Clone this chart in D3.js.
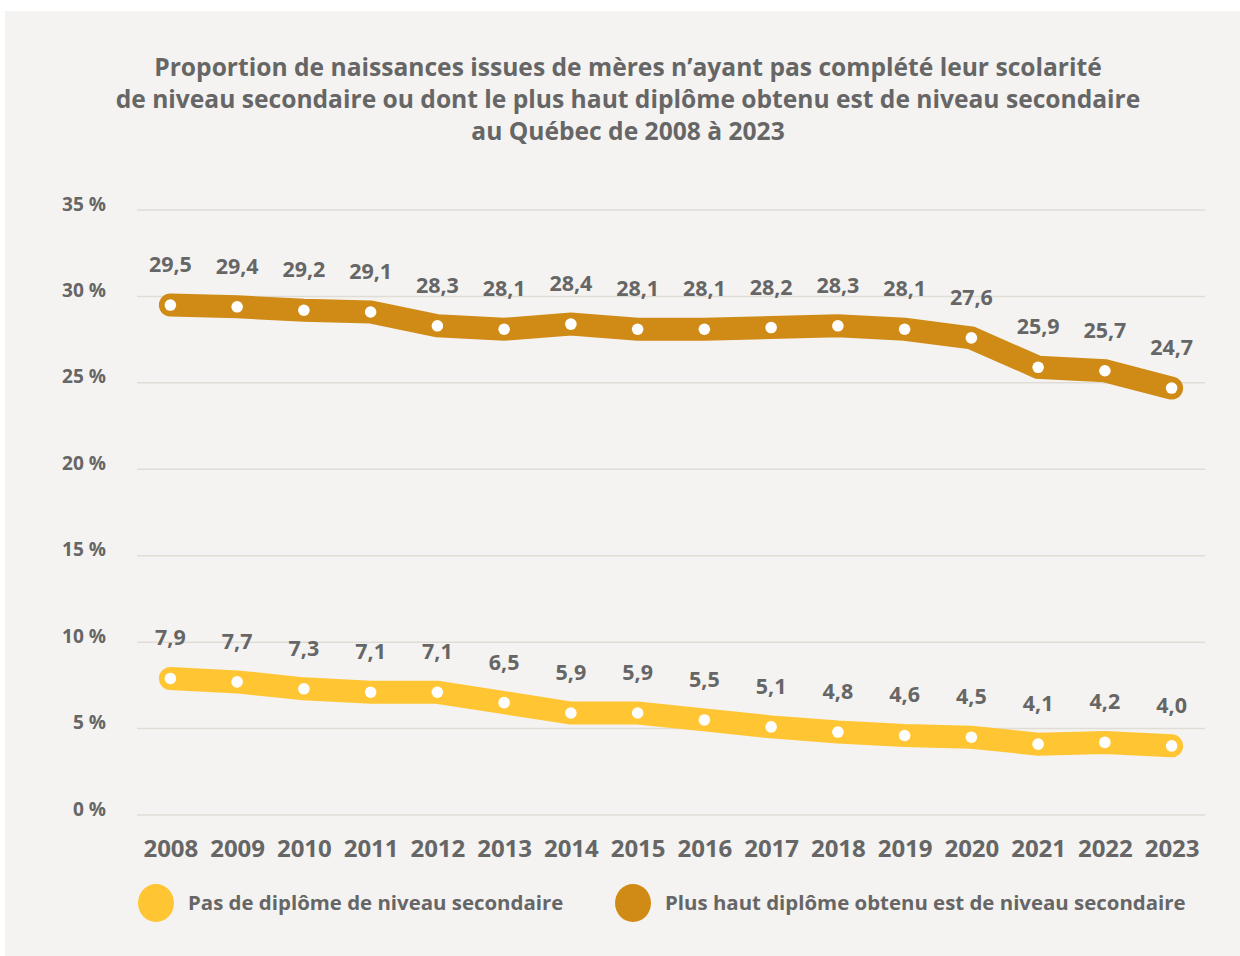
<!DOCTYPE html>
<html><head><meta charset="utf-8">
<script src="https://cdn.jsdelivr.net/npm/d3@7"></script>
<style>
html,body{margin:0;padding:0;background:#fff;}
svg{display:block;}
text{font-family:"Open Sans", Lato, sans-serif;font-weight:700;fill:#666;}
</style></head>
<body>
<svg id="chart" width="1240" height="956"></svg>
<script>
const years = ["2008","2009","2010","2011","2012","2013","2014","2015","2016","2017","2018","2019","2020","2021","2022","2023"];
const pasDiplome = [7.9,7.7,7.3,7.1,7.1,6.5,5.9,5.9,5.5,5.1,4.8,4.6,4.5,4.1,4.2,4.0];
const plusHautSecondaire = [29.5,29.4,29.2,29.1,28.3,28.1,28.4,28.1,28.1,28.2,28.3,28.1,27.6,25.9,25.7,24.7];
const yTicks = [0,5,10,15,20,25,30,35];
const seriesNames = ["Pas de diplôme de niveau secondaire","Plus haut diplôme obtenu est de niveau secondaire"];
const seriesColors = ["#FFC533","#D08A16"];
const titleLines = [
  "Proportion de naissances issues de mères n’ayant pas complété leur scolarité",
  "de niveau secondaire ou dont le plus haut diplôme obtenu est de niveau secondaire",
  "au Québec de 2008 à 2023"
];

const svg = d3.select("#chart");
svg.append("rect").attr("x",5).attr("y",11).attr("width",1235).attr("height",945).attr("fill","#F4F3F1");

const x = d3.scalePoint().domain(years).range([137,1205]).padding(0.5);
const y = d3.scaleLinear().domain([0,35]).range([815,210]);

// fit a selection's font size so that a reference element gets a target width
function fitGroup(sel, refNode, targetW, baseSize){
  sel.style("font-size", baseSize+"px");
  d3.select(refNode).style("font-size", baseSize+"px");
  const w = refNode.getComputedTextLength();
  const s = baseSize * targetW / w;
  sel.style("font-size", s+"px");
}

// title
const tt = svg.append("g").selectAll("text").data(titleLines).join("text")
  .attr("x",628).attr("y",(d,i)=>76+i*32)
  .attr("text-anchor","middle").text(d=>d);
fitGroup(tt, tt.nodes()[1], 1025, 22);

// grid
svg.append("g").selectAll("line").data(yTicks).join("line")
  .attr("x1",137).attr("x2",1205).attr("y1",d=>y(d)).attr("y2",d=>y(d))
  .attr("stroke","#E0DDD6").attr("stroke-width",1.5);

// y axis labels
const yAxis = d3.axisLeft(y).tickValues(yTicks).tickFormat(d=>d+" %").tickSize(0).tickPadding(0);
const ga = svg.append("g").attr("transform","translate(106,0)").call(yAxis);
ga.select(".domain").remove();
const yl = ga.selectAll("text").attr("fill","#666").attr("dy","0em").attr("font-family",null).attr("font-size",null);
fitGroup(yl, yl.nodes()[7], 44, 18);

// x axis labels
const xAxis = d3.axisBottom(x).tickSize(0).tickPadding(0);
const gx = svg.append("g").attr("transform","translate(0,834)").call(xAxis);
gx.select(".domain").remove();
const xl = gx.selectAll("text").attr("fill","#666").attr("dy","0.95em").attr("font-family",null).attr("font-size",null);
fitGroup(xl, xl.nodes()[0], 55, 20);

const series = [pasDiplome, plusHautSecondaire];
const line = d3.line().x((d,i)=>x(years[i])).y(d=>y(d));

series.forEach((vals,si)=>{
  const g = svg.append("g").attr("class","series");
  g.append("path").datum(vals).attr("d",line)
    .attr("fill","none").attr("stroke",seriesColors[si]).attr("stroke-width",23)
    .attr("stroke-linecap","round").attr("stroke-linejoin","miter");
  g.selectAll("circle").data(vals).join("circle")
    .attr("cx",(d,i)=>x(years[i])).attr("cy",d=>y(d)).attr("r",5.8).attr("fill","#fff");
  g.selectAll("text").data(vals).join("text")
    .attr("class","vlabel")
    .attr("x",(d,i)=>x(years[i])).attr("y",d=>y(d)-33)
    .attr("text-anchor","middle")
    .text(d=>d.toFixed(1).replace(".",","));
});
const vl = svg.selectAll("text.vlabel");
fitGroup(vl, vl.nodes()[16], 43, 18);

// legend
const legendX = [156,633];
seriesNames.forEach((n,i)=>{
  svg.append("ellipse").attr("cx",legendX[i]).attr("cy",903).attr("rx",18).attr("ry",19).attr("fill",seriesColors[i]);
  svg.append("text").attr("class","legtext").attr("x",legendX[i]+32).attr("y",910).text(n);
});
const lg = svg.selectAll("text.legtext");
fitGroup(lg, lg.nodes()[1], 521, 20);
</script>
</body></html>
